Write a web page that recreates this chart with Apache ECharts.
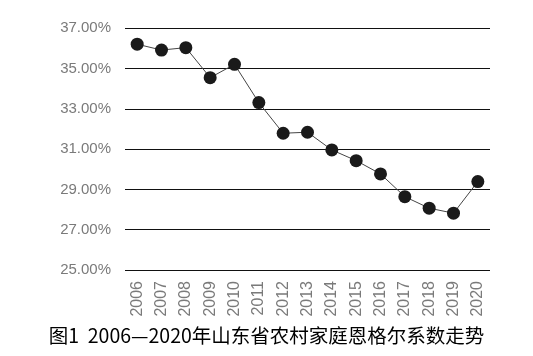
<!DOCTYPE html>
<html><head><meta charset="utf-8">
<script src="https://cdn.jsdelivr.net/npm/echarts@6/dist/echarts.min.js"></script>
<style>html,body{margin:0;padding:0;background:#fff}#c{width:533px;height:356px}</style>
</head><body><div id="c"></div>
<script>
var years = ['2006','2007','2008','2009','2010','2011','2012','2013','2014','2015','2016','2017','2018','2019','2020'];
var engel = [36.21,35.92,36.04,34.55,35.21,33.31,31.79,31.84,30.96,30.43,29.77,28.64,28.07,27.82,29.39];
var titleText = '图1  2006—2020年山东省农村家庭恩格尔系数走势';
var chart = echarts.init(document.getElementById('c'));
chart.setOption({
  animation:false,
  title:{text:titleText,left:'center',bottom:6,textStyle:{fontFamily:'Noto Sans CJK SC',fontSize:19.5,fontWeight:'normal',color:'#000'}},
  grid:{left:125,right:43,top:28.3,bottom:86},
  xAxis:{type:'category',data:years,boundaryGap:true,
    axisLine:{show:false},axisTick:{show:false},
    axisLabel:{rotate:90,margin:11,color:'#7a7a7a',fontSize:16,fontFamily:'Liberation Sans'}},
  yAxis:{type:'value',min:25,max:37,interval:2,
    axisLine:{show:false},axisTick:{show:false},
    splitLine:{lineStyle:{color:'#111',width:1}},
    axisLabel:{margin:14,color:'#7a7a7a',fontSize:15,fontFamily:'Liberation Sans',formatter:function(v){return v.toFixed(2)+'%';}}},
  series:[{type:'line',data:engel,symbol:'circle',symbolSize:13,
    lineStyle:{color:'#444',width:1},itemStyle:{color:'#1a1a1a'}}]
});
</script></body></html>
